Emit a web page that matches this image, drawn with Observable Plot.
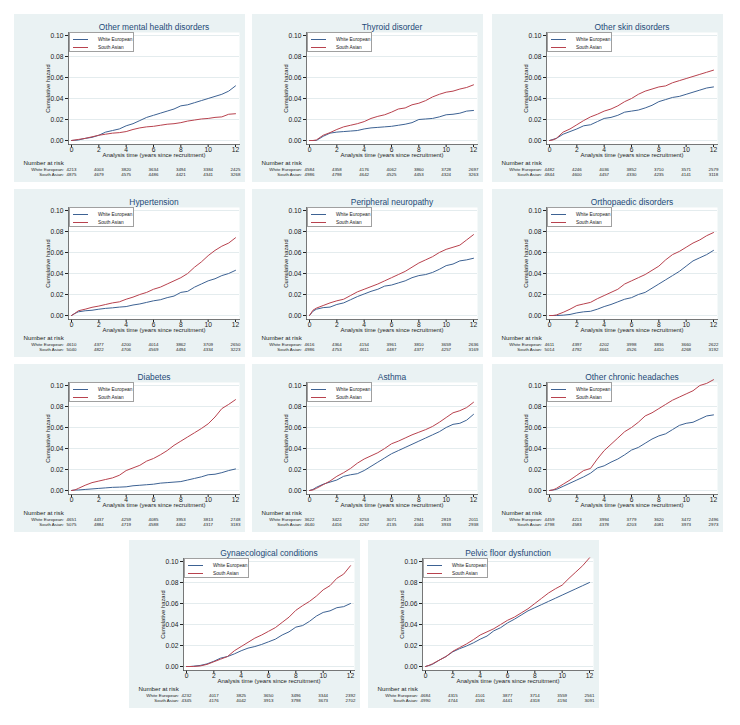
<!DOCTYPE html>
<html><head><meta charset="utf-8">
<script src="https://cdn.jsdelivr.net/npm/d3@7"></script>
<script src="https://cdn.jsdelivr.net/npm/@observablehq/plot@0.6"></script>
<style>
html,body{margin:0;padding:0;background:#fff;}
body{width:740px;height:725px;position:relative;overflow:hidden;font-family:"Liberation Sans",Arial,sans-serif;}
.panel{position:absolute;width:231px;height:168px;background:#eaf2f3;}
.panel svg{position:absolute;left:0;top:0;}
.legend{position:absolute;left:55px;top:18px;width:65px;height:20px;box-sizing:border-box;background:#fff;border:1px solid #a0a0a0;font-size:4.8px;color:#222;}
.legend .row{position:absolute;left:3px;height:6px;display:flex;align-items:center;white-space:nowrap;}
.legend .key{width:15px;height:0;border-top:1px solid;margin-right:10px;}
</style></head><body>
<script>
// ---------- data ----------
const titles = ["Other mental health disorders","Thyroid disorder","Other skin disorders","Hypertension","Peripheral neuropathy","Orthopaedic disorders","Diabetes","Asthma","Other chronic headaches","Gynaecological conditions","Pelvic floor dysfunction"];
const groups = ["White European","South Asian"];
const times = [0,0.25,0.5,1,1.5,2,2.5,3,3.5,4,4.5,5,5.5,6,6.5,7,7.5,8,8.5,9,9.5,10,10.5,11,11.5,12];
const xTicks = [0,2,4,6,8,10,12];
const yTicks = [0,0.02,0.04,0.06,0.08,0.10];
const riskTimes = [0,2,4,6,8,10,12];

const mentalWE = [0,0.0002,0.0005,0.002,0.003,0.005,0.008,0.0095,0.011,0.014,0.016,0.019,0.022,0.024,0.026,0.028,0.030,0.033,0.034,0.036,0.038,0.040,0.042,0.044,0.047,0.052];
const mentalSA = [0,0.0005,0.001,0.002,0.0035,0.005,0.006,0.007,0.0075,0.0085,0.0105,0.012,0.013,0.0135,0.0145,0.0155,0.016,0.017,0.0185,0.0195,0.0205,0.021,0.022,0.0225,0.025,0.0255];
const thyroidWE = [0,0,0,0.004,0.007,0.008,0.0085,0.009,0.0095,0.011,0.012,0.0125,0.013,0.0135,0.0145,0.0155,0.017,0.020,0.0205,0.021,0.0225,0.0245,0.025,0.026,0.028,0.0286];
const thyroidSA = [0,0,0.0005,0.005,0.0075,0.0105,0.013,0.0145,0.016,0.018,0.021,0.023,0.0245,0.027,0.030,0.031,0.034,0.0355,0.038,0.0415,0.044,0.046,0.047,0.049,0.0505,0.053];
const skinWE = [0,0.001,0.002,0.006,0.0085,0.011,0.014,0.015,0.018,0.021,0.022,0.024,0.027,0.028,0.029,0.031,0.0335,0.037,0.039,0.041,0.042,0.044,0.046,0.048,0.050,0.051];
const skinSA = [0,0.0005,0.002,0.008,0.011,0.015,0.019,0.0225,0.025,0.028,0.030,0.033,0.037,0.040,0.044,0.047,0.049,0.051,0.052,0.055,0.057,0.059,0.061,0.063,0.065,0.067];
const hyperWE = [0,0.002,0.0035,0.0045,0.005,0.006,0.0068,0.0073,0.008,0.0085,0.010,0.011,0.0125,0.014,0.015,0.017,0.0185,0.022,0.023,0.027,0.030,0.033,0.035,0.038,0.040,0.043];
const hyperSA = [0,0.002,0.0045,0.006,0.0078,0.009,0.0105,0.012,0.013,0.0155,0.0175,0.020,0.022,0.025,0.027,0.030,0.033,0.036,0.040,0.046,0.051,0.057,0.062,0.066,0.069,0.074];
const neuroWE = [0,0.004,0.006,0.0075,0.008,0.0105,0.012,0.015,0.018,0.0205,0.023,0.025,0.028,0.029,0.031,0.033,0.036,0.038,0.039,0.041,0.044,0.0475,0.049,0.052,0.053,0.0545];
const neuroSA = [0,0.005,0.007,0.0095,0.012,0.014,0.0155,0.019,0.0225,0.025,0.0275,0.030,0.033,0.036,0.039,0.042,0.046,0.050,0.053,0.056,0.060,0.063,0.065,0.067,0.072,0.077];
const orthoWE = [0,0,0,0.0003,0.001,0.0025,0.0035,0.004,0.006,0.0085,0.0105,0.013,0.0155,0.017,0.020,0.022,0.026,0.030,0.034,0.038,0.042,0.047,0.052,0.055,0.058,0.062];
const orthoSA = [0,0,0.0005,0.003,0.006,0.0095,0.011,0.0125,0.016,0.019,0.022,0.025,0.030,0.033,0.036,0.039,0.043,0.047,0.053,0.058,0.061,0.065,0.069,0.072,0.076,0.079];
const diabWE = [0,0.0005,0.0005,0.001,0.0015,0.002,0.0025,0.003,0.0032,0.0035,0.0045,0.005,0.0055,0.006,0.007,0.0075,0.008,0.0085,0.010,0.0115,0.013,0.015,0.0155,0.017,0.019,0.0205];
const diabSA = [0,0.0005,0.002,0.005,0.0075,0.009,0.0105,0.012,0.0145,0.019,0.0215,0.024,0.028,0.0305,0.034,0.038,0.043,0.047,0.051,0.055,0.059,0.0635,0.070,0.078,0.082,0.0865];
const asthmaWE = [0,0.001,0.003,0.006,0.008,0.010,0.0135,0.015,0.016,0.019,0.023,0.027,0.031,0.035,0.038,0.041,0.044,0.047,0.050,0.053,0.056,0.060,0.063,0.064,0.067,0.0725];
const asthmaSA = [0,0.0005,0.002,0.0055,0.009,0.0135,0.017,0.021,0.026,0.030,0.033,0.036,0.040,0.0445,0.047,0.050,0.053,0.0555,0.058,0.061,0.065,0.0695,0.074,0.076,0.079,0.084];
const headWE = [0,0.0005,0.001,0.004,0.007,0.010,0.013,0.0165,0.0215,0.0235,0.027,0.030,0.034,0.0385,0.041,0.045,0.049,0.052,0.054,0.058,0.062,0.064,0.065,0.068,0.071,0.072];
const headSA = [0,0.0005,0.002,0.006,0.010,0.0145,0.019,0.021,0.030,0.038,0.044,0.050,0.056,0.060,0.065,0.071,0.074,0.078,0.082,0.086,0.089,0.092,0.095,0.100,0.102,0.1055];
const gynWE = [0,0,0.0003,0.001,0.0025,0.005,0.008,0.0095,0.012,0.015,0.0175,0.019,0.021,0.0235,0.026,0.030,0.033,0.0375,0.039,0.043,0.048,0.0515,0.053,0.056,0.057,0.060];
const gynSA = [0,0,0,0.0005,0.002,0.0045,0.007,0.0095,0.015,0.019,0.023,0.027,0.030,0.0335,0.037,0.042,0.047,0.0535,0.058,0.062,0.067,0.073,0.077,0.084,0.088,0.096];
const pelvicWE = [0,0.001,0.002,0.006,0.0095,0.014,0.017,0.0195,0.0225,0.026,0.029,0.034,0.037,0.0415,0.045,0.049,0.053,0.056,0.059,0.062,0.065,0.068,0.071,0.074,0.077,0.080];
const pelvicSA = [0,0.001,0.0025,0.006,0.0095,0.0145,0.018,0.0215,0.0255,0.030,0.033,0.036,0.040,0.044,0.047,0.051,0.055,0.060,0.065,0.070,0.074,0.0775,0.084,0.090,0.096,0.1035];

const riskMentalWE = [4213,4003,3820,3634,3494,3384,2425];
const riskMentalSA = [4875,4679,4575,4486,4421,4341,3268];
const riskThyroidWE = [4584,4358,4176,4062,3860,3728,2697];
const riskThyroidSA = [4986,4798,4642,4525,4453,4324,3263];
const riskSkinWE = [4482,4246,4036,3852,3710,3571,2579];
const riskSkinSA = [4844,4600,4457,4330,4235,4141,3118];
const riskHyperWE = [4610,4377,4200,4014,3862,3709,2650];
const riskHyperSA = [5040,4822,4706,4569,4494,4334,3223];
const riskNeuroWE = [4616,4364,4154,3961,3810,3659,2636];
const riskNeuroSA = [4986,4753,4611,4487,4377,4257,3169];
const riskOrthoWE = [4611,4397,4202,3998,3836,3660,2622];
const riskOrthoSA = [5014,4792,4661,4526,4410,4268,3192];
const riskDiabWE = [4651,4437,4259,4085,3953,3813,2748];
const riskDiabSA = [5075,4884,4719,4588,4462,4317,3183];
const riskAsthmaWE = [3622,3422,3253,3071,2941,2819,2011];
const riskAsthmaSA = [4640,4416,4267,4135,4046,3933,2938];
const riskHeadWE = [4459,4213,3994,3779,3620,3472,2496];
const riskHeadSA = [4798,4583,4378,4203,4081,3973,2973];
const riskGynWE = [4232,4017,3825,3650,3496,3344,2392];
const riskGynSA = [4345,4176,4042,3913,3798,3673,2702];
const riskPelvicWE = [4684,4315,4101,3877,3714,3559,2561];
const riskPelvicSA = [4990,4744,4591,4441,4318,4194,3091];

// ---------- assembly ----------
const seriesWE = [mentalWE,thyroidWE,skinWE,hyperWE,neuroWE,orthoWE,diabWE,asthmaWE,headWE,gynWE,pelvicWE];
const seriesSA = [mentalSA,thyroidSA,skinSA,hyperSA,neuroSA,orthoSA,diabSA,asthmaSA,headSA,gynSA,pelvicSA];
const riskWE = [riskMentalWE,riskThyroidWE,riskSkinWE,riskHyperWE,riskNeuroWE,riskOrthoWE,riskDiabWE,riskAsthmaWE,riskHeadWE,riskGynWE,riskPelvicWE];
const riskSA = [riskMentalSA,riskThyroidSA,riskSkinSA,riskHyperSA,riskNeuroSA,riskOrthoSA,riskDiabSA,riskAsthmaSA,riskHeadSA,riskGynSA,riskPelvicSA];

const colors = ["#3d6293","#b8424e"];
const layout = [[14,14],[252,14],[492,14],[14,189],[252,189],[492,189],[14,364],[252,364],[492,364],[129,540],[368,540]];
const FONT = "Liberation Sans, Arial, sans-serif";

titles.forEach((title, i) => {
  const [left, top] = layout[i];
  const div = document.createElement("div");
  div.className = "panel";
  div.style.left = left + "px";
  div.style.top = top + "px";
  document.body.appendChild(div);

  const rows = [];
  times.forEach((t, j) => {
    rows.push({t, h: seriesWE[i][j], g: groups[0]});
    rows.push({t, h: seriesSA[i][j], g: groups[1]});
  });
  const risk = riskTimes.map((t, j) => ({t, we: String(riskWE[i][j]), sa: String(riskSA[i][j])}));

  const plot = Plot.plot({
    width: 231, height: 168,
    marginLeft: 54, marginRight: 6, marginTop: 18, marginBottom: 38,
    style: {background: "transparent", fontFamily: FONT, fontSize: "6.7px", color: "#222", overflow: "visible"},
    x: {domain: [0, 12], ticks: xTicks, tickSize: 3, tickPadding: 0, label: null, insetLeft: 3, insetRight: 4},
    y: {domain: [0, 0.1], ticks: yTicks, tickFormat: ".2f", tickSize: 3, tickPadding: 2, label: null, insetTop: 3, insetBottom: 4},
    color: {domain: groups, range: colors},
    marks: [
      Plot.frame({fill: "white", stroke: "none"}),
      Plot.ruleY(yTicks, {stroke: "#e4ecee", strokeWidth: 1}),
      Plot.frame({anchor: "left", stroke: "#555", strokeWidth: 0.8}),
      Plot.frame({anchor: "bottom", stroke: "#555", strokeWidth: 0.8}),
      Plot.line(rows, {x: "t", y: "h", z: "g", stroke: "g", strokeWidth: 1}),
      Plot.text([title], {frameAnchor: "top", dy: -8.5, fontSize: 8.4, fill: "#1e4a78", fontFamily: FONT}),
      Plot.text(["Cumulative hazard"], {frameAnchor: "left", textAnchor: "middle", dx: -20, rotate: -90, fontSize: 5.8, fill: "#222", fontFamily: FONT}),
      Plot.text(["Analysis time (years since recruitment)"], {frameAnchor: "bottom", dy: 12.3, fontSize: 6, fill: "#222", fontFamily: FONT}),
      Plot.text(["Number at risk"], {frameAnchor: "bottom-left", dx: -45, dy: 20.8, textAnchor: "start", fontSize: 6.2, fill: "#222", fontFamily: FONT}),
      Plot.text(risk.slice(0, 1), {x: "t", text: () => groups[0] + ":", frameAnchor: "bottom", dx: -7.5, dy: 26.8, textAnchor: "end", fontSize: 4.4, fill: "#222", fontFamily: FONT}),
      Plot.text(risk.slice(0, 1), {x: "t", text: () => groups[1] + ":", frameAnchor: "bottom", dx: -7.5, dy: 31.6, textAnchor: "end", fontSize: 4.4, fill: "#222", fontFamily: FONT}),
      Plot.text(risk, {x: "t", text: "we", frameAnchor: "bottom", dy: 26.8, fontSize: 4.4, fill: "#222", fontFamily: FONT}),
      Plot.text(risk, {x: "t", text: "sa", frameAnchor: "bottom", dy: 31.6, fontSize: 4.4, fill: "#222", fontFamily: FONT})
    ]
  });
  div.appendChild(plot);

  const lg = document.createElement("div");
  lg.className = "legend";
  groups.forEach((g, k) => {
    const r = document.createElement("div");
    r.className = "row";
    r.style.top = (k === 0 ? 3.5 : 11) + "px";
    const key = document.createElement("span");
    key.className = "key";
    key.style.borderTopColor = colors[k];
    const lab = document.createElement("span");
    lab.textContent = g;
    r.appendChild(key);
    r.appendChild(lab);
    lg.appendChild(r);
  });
  div.appendChild(lg);
});
</script>
</body></html>
